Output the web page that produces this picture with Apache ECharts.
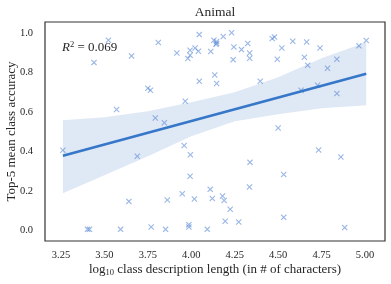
<!DOCTYPE html>
<html><head><meta charset="utf-8">
<script src="https://cdn.jsdelivr.net/npm/echarts@6/dist/echarts.min.js"></script>
<style>html,body{margin:0;padding:0;background:#fff}#c{width:391px;height:284px}</style>
</head><body><div id="c"></div>
<script>
// log10 description length per class
const xValues = [3.261,3.403,3.414,3.440,3.523,3.570,3.593,3.641,3.656,3.689,3.750,3.765,3.769,3.793,3.810,3.845,3.852,3.862,3.917,3.948,3.959,3.965,3.980,3.986,3.986,3.993,3.993,3.993,3.995,4.018,4.022,4.041,4.046,4.046,4.092,4.109,4.112,4.121,4.130,4.135,4.146,4.146,4.142,4.146,4.180,4.184,4.189,4.195,4.224,4.232,4.241,4.245,4.273,4.289,4.325,4.335,4.336,4.336,4.338,4.397,4.466,4.479,4.495,4.500,4.521,4.532,4.532,4.584,4.632,4.651,4.664,4.670,4.727,4.733,4.741,4.784,4.838,4.838,4.861,4.883,4.965,5.007];
// top-5 mean class accuracy
const yValues = [0.406,0.005,0.005,0.851,0.964,0.613,0.005,0.147,0.885,0.376,0.721,0.711,0.017,0.570,0.953,0.546,0.005,0.154,0.900,0.186,0.430,0.655,0.872,0.029,0.017,0.914,0.888,0.274,0.384,0.159,0.925,0.909,0.993,0.756,0.005,0.208,0.907,0.162,0.964,0.788,0.958,0.948,0.944,0.745,0.174,0.983,0.151,0.046,0.107,1.002,0.866,0.930,0.042,0.917,0.948,0.220,0.900,0.873,0.345,0.756,0.973,0.981,0.868,0.519,0.925,0.283,0.066,0.959,0.711,0.878,0.956,0.838,0.736,0.408,0.925,0.822,0.868,0.694,0.372,0.014,0.936,0.963];
// regression fit line endpoints
const fitX = [3.261, 5.007];
const fitY = [0.379, 0.795];
// confidence band read at these x positions
const bandX = [3.261, 3.5, 3.75, 4.0, 4.25, 4.5, 4.75, 5.007];
const bandUpper = [0.558, 0.574, 0.604, 0.650, 0.701, 0.777, 0.873, 0.954];
const bandLower = [0.188, 0.279, 0.376, 0.477, 0.553, 0.589, 0.619, 0.635];
const xTicks = [3.25, 3.5, 3.75, 4.0, 4.25, 4.5, 4.75, 5.0];
const yTicks = [0.0, 0.2, 0.4, 0.6, 0.8, 1.0];
const titleText = 'Animal';
const r2Text = '0.069';

const FONT = 'Liberation Serif';
const TXT = '#262626';
const scatterData = xValues.map((x, i) => [x, yValues[i]]);
const bandData = bandX.map((x, i) => [x, bandLower[i], bandUpper[i]]);
const fitData = fitX.map((x, i) => [x, fitY[i]]);
const xSymbol = 'path://M0,1.3L1.3,0L5,3.7L8.7,0L10,1.3L6.3,5L10,8.7L8.7,10L5,6.3L1.3,10L0,8.7L3.7,5Z';

const chart = echarts.init(document.getElementById('c'), null, {renderer: 'canvas'});
chart.setOption({
  animation: false,
  backgroundColor: '#ffffff',
  grid: {left: 45, right: 6, top: 22, bottom: 43, outerBoundsMode: 'none', containLabel: false,
         show: true, borderColor: '#333', borderWidth: 1.2, backgroundColor: 'transparent'},
  xAxis: {
    type: 'value', min: 3.158, max: 5.115,
    axisLine: {show: false}, axisTick: {show: false}, splitLine: {show: false},
    axisLabel: {customValues: xTicks, formatter: v => v.toFixed(2), fontFamily: FONT, fontSize: 10.5, color: TXT, margin: 9},
    name: '{t|log}{s|10}{t| class description length (in # of characters)}',
    nameLocation: 'middle', nameGap: 21, nameMoveOverlap: false,
    nameTextStyle: {rich: {t: {fontFamily: FONT, fontSize: 13, color: TXT}, s: {fontFamily: FONT, fontSize: 8.5, color: TXT, verticalAlign: 'bottom', padding: [6, 0, 0, 0]}}}
  },
  yAxis: {
    type: 'value', min: -0.054, max: 1.057,
    axisLine: {show: false}, axisTick: {show: false}, splitLine: {show: false},
    axisLabel: {customValues: yTicks, formatter: v => v.toFixed(1), fontFamily: FONT, fontSize: 10.5, color: TXT, margin: 12},
    name: 'Top-5 mean class accuracy', nameLocation: 'middle', nameGap: 27, nameMoveOverlap: false,
    nameTextStyle: {fontFamily: FONT, fontSize: 13, color: TXT}
  },
  graphic: [{
    type: 'text', x: 215, y: 12,
    style: {text: titleText, fontFamily: FONT, fontSize: 13.5, fill: TXT, align: 'center', verticalAlign: 'middle'}
  }, {
    type: 'text', x: 62, y: 48,
    style: {
      text: '{i|R}{s|2}{n| = ' + r2Text + '}', verticalAlign: 'middle',
      rich: {
        i: {fontFamily: FONT, fontStyle: 'italic', fontSize: 13, fill: TXT},
        s: {fontFamily: FONT, fontSize: 8.5, fill: TXT, verticalAlign: 'top', padding: [0, 0, 6, 0]},
        n: {fontFamily: FONT, fontSize: 13, fill: TXT}
      }
    }
  }],
  series: [
    {
      type: 'custom', data: bandData, silent: true, z: 1,
      renderItem: function (params, api) {
        if (params.dataIndex !== 0) return null;
        const pts = [];
        for (let i = 0; i < bandData.length; i++) pts.push(api.coord([bandData[i][0], bandData[i][2]]));
        for (let i = bandData.length - 1; i >= 0; i--) pts.push(api.coord([bandData[i][0], bandData[i][1]]));
        return {type: 'polygon', shape: {points: pts}, style: {fill: 'rgba(120,160,215,0.24)', stroke: null}};
      },
      encode: {x: 0, y: [1, 2]}
    },
    {type: 'scatter', data: scatterData, symbol: xSymbol, symbolSize: 6, itemStyle: {color: 'rgba(80,130,210,0.72)'}, z: 3},
    {type: 'line', data: fitData, symbol: 'none', lineStyle: {color: '#3677c9', width: 2.6}, z: 4}
  ]
});
</script></body></html>
